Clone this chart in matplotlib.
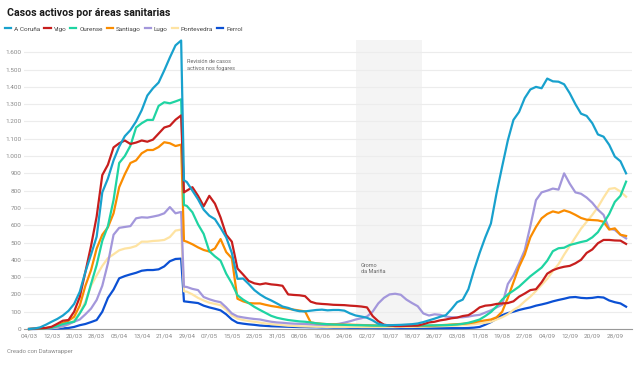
import numpy as np
import pandas as pd
import matplotlib
matplotlib.use('Agg')
import matplotlib.pyplot as plt
import matplotlib.dates as mdates
from matplotlib.ticker import FuncFormatter

plt.rcParams['font.family'] = ['Roboto', 'DejaVu Sans']

# day offsets from 04/03/2020: every 2 days, plus the day of the revision (29/04)
days = list(range(0, 55, 2)) + [55] + list(range(56, 213, 2))
dates = pd.Timestamp('2020-03-04') + pd.to_timedelta(days, unit='D')

coruna = [0, 3, 10, 25, 42, 58, 78, 105, 145, 215, 330, 430, 534, 790, 870, 975, 1055, 1115, 1150, 1200,
          1265, 1350, 1392, 1425, 1495, 1570, 1640, 1668,
          860,
          850, 800, 750, 690, 655, 635, 585, 530, 440, 290, 292, 260, 225, 200, 180, 165, 148, 130, 122, 110,
          103, 102, 106, 110, 112, 108, 110, 110, 106, 90, 78, 72, 65, 50, 30, 23, 22, 23, 24, 26,
          28, 32, 40, 50, 60, 71, 80, 115, 155, 170, 230, 340, 440, 530, 610, 785, 940, 1090, 1209, 1255,
          1335, 1385, 1400, 1392, 1448, 1432, 1430, 1415, 1363, 1300, 1245, 1232, 1190, 1125, 1112, 1065, 997, 970, 900]
vigo = [0, 2, 4, 6, 13, 30, 48, 52, 100, 185, 330, 480, 650, 890, 950, 1050, 1074, 1090, 1070, 1078,
        1090, 1083, 1095, 1130, 1165, 1175, 1210, 1235,
        790,
        800, 820, 770, 710, 770, 725, 645, 545, 505, 350, 315, 278, 264, 258, 264, 258, 255, 250, 200, 197,
        195, 190, 158, 148, 145, 143, 140, 139, 138, 135, 133, 130, 125, 75, 45, 25, 20, 17, 17, 18,
        19, 20, 28, 38, 42, 50, 55, 62, 66, 75, 80, 100, 125, 135, 138, 145, 148, 150, 160, 187,
        205, 225, 230, 270, 320, 340, 352, 360, 365, 380, 400, 440, 460, 496, 515, 515, 512, 511, 492]
ourense = [0, 1, 2, 4, 8, 17, 28, 36, 42, 90, 145, 260, 370, 510, 595, 746, 960, 1000, 1060, 1165,
           1190, 1209, 1209, 1290, 1311, 1305, 1316, 1328,
           717,
           712, 675, 605, 550, 450, 420, 395, 320, 264, 195, 170, 150, 128, 110, 93, 76, 65, 58, 52, 48,
           44, 42, 38, 33, 30, 28, 26, 25, 24, 23, 22, 22, 21, 20, 20, 19, 19, 19, 19, 19,
           20, 20, 20, 21, 21, 22, 22, 24, 26, 30, 36, 45, 55, 75, 98, 130, 170, 200, 222, 245,
           275, 305, 330, 355, 395, 450, 467, 470, 486, 494, 503, 510, 530, 560, 612, 665, 735, 770, 852]
santiago = [0, 1, 3, 6, 10, 18, 35, 48, 71, 135, 250, 340, 465, 545, 588, 669, 820, 895, 960, 975,
            1016, 1035, 1035, 1052, 1080, 1074, 1058, 1066,
            510,
            505, 490, 472, 457, 448, 466, 520, 445, 409, 175, 160, 150, 148, 148, 140, 133, 128, 122, 117, 112,
            107, 102, 38, 33, 30, 28, 27, 26, 25, 25, 24, 23, 22, 21, 20, 20, 19, 19, 18, 18,
            18, 18, 18, 19, 20, 22, 24, 26, 28, 30, 33, 38, 45, 50, 55, 68, 100, 180, 270, 360,
            430, 530, 590, 640, 665, 680, 672, 686, 676, 660, 642, 632, 630, 628, 620, 575, 582, 545, 538]
lugo = [0, 1, 2, 4, 6, 10, 16, 28, 42, 55, 85, 118, 168, 250, 380, 545, 585, 590, 595, 640,
        646, 644, 650, 657, 669, 705, 669, 677,
        245,
        243, 232, 225, 185, 172, 162, 155, 125, 90, 73, 67, 62, 58, 55, 48, 42, 38, 36, 33, 31,
        30, 29, 27, 25, 24, 23, 26, 30, 37, 45, 55, 62, 72, 100, 148, 180, 200, 204, 198, 170,
        150, 132, 90, 78, 85, 82, 72, 68, 67, 68, 72, 78, 82, 95, 108, 125, 140, 260, 310, 380,
        455, 595, 745, 790, 800, 812, 806, 900, 840, 790, 782, 760, 730, 690, 660, 580, 573, 545, 524]
pontevedra = [0, 1, 2, 3, 5, 8, 15, 25, 52, 95, 160, 250, 310, 365, 410, 432, 455, 465, 470, 480,
              505, 505, 509, 511, 515, 532, 569, 575,
              218,
              216, 200, 180, 165, 152, 145, 138, 112, 78, 60, 52, 46, 42, 37, 32, 28, 25, 22, 19, 18,
              16, 15, 14, 13, 13, 12, 12, 12, 12, 12, 12, 11, 11, 11, 11, 11, 11, 11, 12, 12,
              12, 13, 13, 14, 15, 16, 17, 18, 20, 22, 25, 28, 32, 36, 42, 55, 68, 85, 110, 130,
              160, 187, 220, 255, 290, 335, 375, 430, 480, 530, 580, 620, 660, 705, 760, 810, 815, 795, 765]
ferrol = [0, 0, 1, 1, 2, 3, 4, 6, 12, 22, 29, 40, 52, 100, 180, 228, 293, 306, 316, 325,
          337, 341, 341, 345, 362, 392, 405, 407,
          160,
          158, 154, 150, 135, 125, 117, 108, 85, 55, 36, 31, 27, 24, 20, 18, 16, 15, 14, 13, 12,
          11, 11, 10, 10, 9, 9, 8, 8, 8, 7, 7, 6, 6, 6, 5, 5, 5, 5, 5, 5,
          5, 5, 5, 5, 5, 5, 5, 5, 5, 5, 6, 8, 12, 25, 40, 60, 80, 92, 100, 110,
          118, 125, 135, 142, 150, 160, 168, 175, 183, 185, 180, 178, 180, 185, 182, 165, 155, 148, 129]

names = ['A Coruña', 'Vigo', 'Ourense', 'Santiago', 'Lugo', 'Pontevedra', 'Ferrol']
series = [coruna, vigo, ourense, santiago, lugo, pontevedra, ferrol]
colors = ['#18a1cd', '#c71e1d', '#1fd4a2', '#fa8c00', '#a397db', '#fee3a2', '#0b50d4']

fig = plt.figure(figsize=(6.4, 3.65), dpi=100)
ax = fig.add_axes([0.0375, 0.0986, 0.95, 0.7918])

# Gromo da Mariña period
ax.axvspan(pd.Timestamp('2020-06-28'), pd.Timestamp('2020-07-21 12:00'), color='#f4f4f4', lw=0, zorder=0)

handles = []
for name, vals, c in reversed(list(zip(names, series, colors))):
    ln, = ax.plot(dates, vals, color=c, lw=1.6, solid_joinstyle='round', clip_on=False, zorder=3)
    handles.insert(0, ln)

ax.set_ylim(0, 1671)
ax.set_xlim(pd.Timestamp('2020-03-04') - pd.Timedelta(days=1.8), pd.Timestamp('2020-03-04') + pd.Timedelta(days=214.1))

ax.set_yticks(range(0, 1601, 100))
ax.yaxis.set_major_formatter(FuncFormatter(lambda v, p: f'{int(v):,}'.replace(',', '.')))
ax.set_xticks(pd.date_range('2020-03-04', periods=27, freq='8D'))
ax.xaxis.set_major_formatter(mdates.DateFormatter('%d/%m'))
ax.tick_params(axis='both', length=0, labelsize=4.6, labelcolor='#8a8a8a')
ax.tick_params(axis='y', pad=2)
ax.tick_params(axis='x', pad=3)
ax.grid(axis='y', color='#ececec', lw=0.8)
ax.set_axisbelow(True)
for s in ['top', 'right', 'left']:
    ax.spines[s].set_visible(False)
ax.spines['bottom'].set_color('#999999')
ax.spines['bottom'].set_linewidth(0.8)

ax.annotate('Revisión de casos\nactivos nos fogares', xy=(pd.Timestamp('2020-04-29'), 1600),
            xytext=(187 / 640, 1 - 59 / 365), textcoords='figure fraction',
            fontsize=4, color='#666666', va='top', ha='left', linespacing=1.3)
ax.annotate('Gromo\nda Mariña', xy=(pd.Timestamp('2020-07-01'), 400),
            xytext=(361 / 640, 1 - 263 / 365), textcoords='figure fraction',
            fontsize=4, color='#666666', va='top', ha='left', linespacing=1.3)

fig.text(7 / 640, 1 - 13 / 365, 'Casos activos por áreas sanitarias', fontsize=7.6,
         fontweight='bold', color='#1a1a1a', va='center', ha='left')
fig.legend(handles, names, loc='center left', bbox_to_anchor=(5 / 640, 1 - 29 / 365), ncol=7,
           frameon=False, fontsize=4.6, handlelength=1.0, handletextpad=0.45, columnspacing=0.6,
           borderpad=0, borderaxespad=0, labelcolor='#444444')
fig.text(7 / 640, 1 - 352 / 365, 'Creado con Datawrapper', fontsize=4.3, color='#888888',
         va='center', ha='left')

fig.savefig('out.png', dpi=100)
